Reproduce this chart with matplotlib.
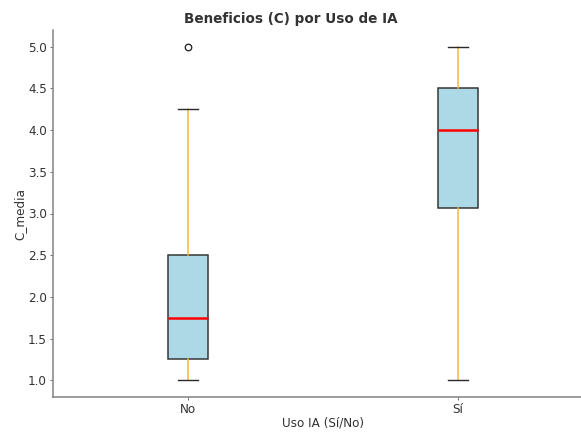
import matplotlib
matplotlib.use("Agg")
import matplotlib.pyplot as plt

# resumen de C_media por grupo (Uso de IA)
grupos = ["No", "Sí"]
minimos = [1.0, 1.0]
q1 = [1.25, 3.07]
medianas = [1.75, 4.0]
q3 = [2.5, 4.5]
maximos = [4.25, 5.0]
atipicos = [[5.0], []]

stats = []
for i, g in enumerate(grupos):
    stats.append({
        "label": g,
        "whislo": minimos[i],
        "q1": q1[i],
        "med": medianas[i],
        "q3": q3[i],
        "whishi": maximos[i],
        "fliers": atipicos[i],
    })

fig = plt.figure(figsize=(581 / 72, 432 / 72), dpi=72)
ax = fig.add_axes([53 / 581, 35 / 432, 540 / 581, 367 / 432])

ax.bxp(stats, positions=[1, 2], widths=0.15, patch_artist=True,
       boxprops=dict(facecolor="lightblue", edgecolor="#333333", linewidth=1.5),
       medianprops=dict(color="red", linewidth=2.5),
       whiskerprops=dict(color="#FDB52F", linewidth=1.5),
       capprops=dict(color="#2a2a2a", linewidth=1.4),
       flierprops=dict(marker="o", markerfacecolor="none",
                       markeredgecolor="#222222", markersize=6.5,
                       markeredgewidth=1.3))

ax.set_xlim(0.5, 2.5)
ax.set_ylim(0.8, 5.2)
ax.set_yticks([1.0, 1.5, 2.0, 2.5, 3.0, 3.5, 4.0, 4.5, 5.0])
ax.set_yticklabels(["1.0", "1.5", "2.0", "2.5", "3.0", "3.5", "4.0", "4.5", "5.0"])

for s in ["top", "right"]:
    ax.spines[s].set_visible(False)
for s in ["left", "bottom"]:
    ax.spines[s].set_color("#808080")
    ax.spines[s].set_linewidth(1.5)
ax.tick_params(labelcolor="#333333", labelsize=12, length=3, width=0.8,
               color="#555555", pad=3)

ax.set_xlabel("Uso IA (Sí/No)", fontsize=12, color="#333333")
ax.xaxis.set_label_coords(0.5, -0.071)
ax.xaxis.label.set_verticalalignment("center")
ax.set_ylabel("C_media", fontsize=12, color="#333333")
ax.yaxis.set_label_coords(-0.062, 0.5)
ax.yaxis.label.set_verticalalignment("center")
fig.suptitle("Beneficios (C) por Uso de IA", fontsize=13.5, fontweight="bold",
             color="#333333", x=0.5, y=0.956, va="center")

fig.savefig("out.png", dpi=72)
